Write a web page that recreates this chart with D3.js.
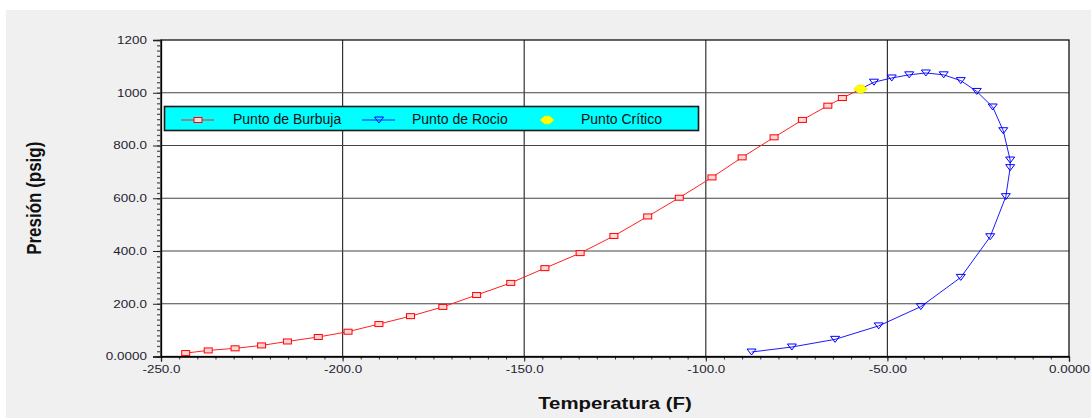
<!DOCTYPE html>
<html>
<head>
<meta charset="utf-8">
<script src="https://cdn.jsdelivr.net/npm/d3@7"></script>
<style>
  body { margin: 0; background: #fff; }
  svg { display: block; font-family: "Liberation Sans", Arial, sans-serif; }
</style>
</head>
<body>
<script>
//data: bubble and dew curves (temperature F, pressure psig)
var bubbleT = [-243.2, -237.0, -229.6, -222.3, -215.2, -206.7, -198.5, -190.0, -181.3, -172.4, -163.1, -153.7, -144.3, -134.6, -125.3, -116.0, -107.3, -98.3, -90.0, -81.2, -73.4, -66.4, -62.4];
var bubbleP = [13, 23, 31, 42, 57, 74, 94, 123, 153, 188, 233, 279, 335, 392, 457, 531, 602, 679, 755, 831, 897, 951, 980];
var dewT = [-87.4, -76.3, -64.4, -52.4, -40.8, -29.8, -21.7, -17.4, -16.2, -16.2, -18.1, -21.0, -25.4, -29.8, -34.5, -39.4, -44.0, -48.8, -53.7];
var dewP = [17, 36, 65, 116, 189, 300, 454, 606, 716, 745, 856, 946, 1005, 1046, 1068, 1075, 1068, 1056, 1040];
var critT = [-57.4];
var critP = [1014];

//tick values and labels
var xTicks = [-250, -200, -150, -100, -50, 0];
var xLabels = ["-250.0", "-200.0", "-150.0", "-100.0", "-50.00", "0.0000"];
var yTicks = [0, 200, 400, 600, 800, 1000, 1200];
var yLabels = ["0.0000", "200.0", "400.0", "600.0", "800.0", "1000", "1200"];
var legendNames = ["Punto de Burbuja", "Punto de Rocio", "Punto Crítico"];

var width = 1091, height = 418;
var plot = {left: 161, right: 1069, top: 40, bottom: 356.5};

var svg = d3.select("body").append("svg")
    .attr("width", width)
    .attr("height", height);

//grey panel behind everything
svg.append("rect")
    .attr("x", 6).attr("y", 10)
    .attr("width", width - 6).attr("height", height - 10)
    .attr("fill", "#f0f0f0");

svg.append("rect")
    .attr("x", plot.left).attr("y", plot.top)
    .attr("width", plot.right - plot.left).attr("height", plot.bottom - plot.top)
    .attr("fill", "#fff");

var x = d3.scaleLinear().domain([-250, 0]).range([plot.left, plot.right]);
var y = d3.scaleLinear().domain([0, 1200]).range([plot.bottom, plot.top]);

//grid lines
svg.append("g").selectAll("line")
    .data(xTicks.slice(1, -1))
    .enter().append("line")
    .attr("x1", function(d){ return x(d); })
    .attr("x2", function(d){ return x(d); })
    .attr("y1", plot.top).attr("y2", plot.bottom)
    .attr("stroke", "#333").attr("stroke-width", 1.2);
svg.append("g").selectAll("line")
    .data(yTicks.slice(1, -1))
    .enter().append("line")
    .attr("y1", function(d){ return y(d); })
    .attr("y2", function(d){ return y(d); })
    .attr("x1", plot.left).attr("x2", plot.right)
    .attr("stroke", "#444").attr("stroke-width", 1.2);

//plot frame
svg.append("rect")
    .attr("x", plot.left).attr("y", plot.top)
    .attr("width", plot.right - plot.left).attr("height", plot.bottom - plot.top)
    .attr("fill", "none").attr("stroke", "#111").attr("stroke-width", 1.3);

//minor ticks
svg.append("g")
    .attr("transform", "translate(0," + plot.bottom + ")")
    .call(d3.axisBottom(x).ticks(50).tickValues(d3.range(-250, 1, 5)).tickSize(3).tickFormat(""))
    .call(function(g){ g.select(".domain").remove(); g.selectAll("line").attr("stroke", "#333"); });
svg.append("g")
    .attr("transform", "translate(" + plot.left + ",0)")
    .call(d3.axisLeft(y).tickValues(d3.range(0, 1201, 20)).tickSize(4).tickFormat(""))
    .call(function(g){ g.select(".domain").remove(); g.selectAll("line").attr("stroke", "#555").attr("stroke-width", 1.3); });

//major ticks with labels
var xAxis = svg.append("g")
    .attr("transform", "translate(0," + plot.bottom + ")")
    .call(d3.axisBottom(x).tickValues(xTicks).tickSize(5).tickPadding(4)
        .tickFormat(function(d, i){ return xLabels[i]; }));
var yAxis = svg.append("g")
    .attr("transform", "translate(" + plot.left + ",0)")
    .call(d3.axisLeft(y).tickValues(yTicks).tickSize(8).tickPadding(3)
        .tickFormat(function(d, i){ return yLabels[i]; }));

[xAxis, yAxis].forEach(function(g){
  g.select(".domain").attr("stroke", "#000").attr("stroke-width", 1.3);
  g.selectAll("line").attr("stroke", "#222");
  g.selectAll("text")
      .attr("fill", "#1e1e30")
      .style("font-size", "10.5px")
      .style("font-family", "'Liberation Sans', Arial, sans-serif");
});
//stretched look of the original tick labels
xAxis.selectAll(".tick text").each(function(){
  var t = d3.select(this);
  t.attr("transform", "scale(1.28,1)").attr("x", 0);
});
xAxis.selectAll(".tick").each(function(d){
  var t = d3.select(this).select("text");
  t.attr("transform", "translate(0,0) scale(1.28,1)");
});
yAxis.selectAll(".tick text")
    .attr("x", -11)
    .attr("transform", "scale(1.28,1)");

//axis titles
svg.append("text")
    .attr("transform", "translate(" + ((plot.left + plot.right) / 2) + ",409) scale(1.2,1)")
    .attr("text-anchor", "middle")
    .style("font-size", "17px").style("font-weight", "bold")
    .attr("fill", "#111")
    .text("Temperatura (F)");
svg.append("text")
    .attr("transform", "translate(41," + ((plot.top + plot.bottom) / 2) + ") rotate(-90) scale(1,1.15)")
    .attr("text-anchor", "middle")
    .style("font-size", "17px").style("font-weight", "bold")
    .attr("fill", "#111")
    .text("Presión (psig)");

//curves
var line = d3.line()
    .x(function(d){ return x(d[0]); })
    .y(function(d){ return y(d[1]); });

var bubble = bubbleT.map(function(t, i){ return [t, bubbleP[i]]; });
var dew = dewT.map(function(t, i){ return [t, dewP[i]]; });
var crit = critT.map(function(t, i){ return [t, critP[i]]; });

svg.append("path")
    .datum(bubble.concat(crit))
    .attr("d", line)
    .attr("fill", "none").attr("stroke", "#ff2020").attr("stroke-width", 1);
svg.append("path")
    .datum(dew.concat(crit))
    .attr("d", line)
    .attr("fill", "none").attr("stroke", "#1a1aff").attr("stroke-width", 1);

function square(g){
  g.append("rect")
      .attr("x", -4).attr("y", -2.5)
      .attr("width", 8).attr("height", 5)
      .attr("fill", "#ffd6d6").attr("stroke", "#ff0000").attr("stroke-width", 1);
}
function triangle(g){
  g.append("path")
      .attr("d", "M-4.5,-3L4.5,-3L0,3Z")
      .attr("fill", "none").attr("stroke", "#0000ff").attr("stroke-width", 1);
}
function diamond(g){
  g.append("path")
      .attr("d", "M-7,0L-2.5,-4L2.5,-4L7,0L2.5,4L-2.5,4Z")
      .attr("fill", "#ffff00").attr("stroke", "#f5d800").attr("stroke-width", 0.6);
}

svg.append("g").selectAll("g")
    .data(bubble).enter().append("g")
    .attr("transform", function(d){ return "translate(" + x(d[0]) + "," + y(d[1]) + ")"; })
    .each(function(){ square(d3.select(this)); });
svg.append("g").selectAll("g")
    .data(dew).enter().append("g")
    .attr("transform", function(d){ return "translate(" + x(d[0]) + "," + y(d[1]) + ")"; })
    .each(function(){ triangle(d3.select(this)); });
svg.append("g").selectAll("g")
    .data(crit).enter().append("g")
    .attr("transform", function(d){ return "translate(" + x(d[0]) + "," + y(d[1]) + ")"; })
    .each(function(){ diamond(d3.select(this)); });

//legend
var legend = svg.append("g");
legend.append("rect")
    .attr("x", 164.5).attr("y", 106.5)
    .attr("width", 534).attr("height", 24)
    .attr("fill", "#00ffff").attr("stroke", "#1a1a1a").attr("stroke-width", 1.6);

var legendItems = [
  {name: legendNames[0], line: "#ff2020", x: 198, tx: 233, marker: square},
  {name: legendNames[1], line: "#1a1aff", x: 379, tx: 412, marker: triangle},
  {name: legendNames[2], line: null, x: 547, tx: 581, marker: diamond}
];
legendItems.forEach(function(item){
  var g = legend.append("g").attr("transform", "translate(" + item.x + ",120)");
  if (item.line){
    g.append("line").attr("x1", -17).attr("x2", 16)
        .attr("stroke", item.line).attr("stroke-width", 1);
  }
  item.marker(g);
  legend.append("text")
      .attr("x", item.tx).attr("y", 124)
      .style("font-size", "14px")
      .attr("fill", "#111")
      .text(item.name);
});
</script>
</body>
</html>
